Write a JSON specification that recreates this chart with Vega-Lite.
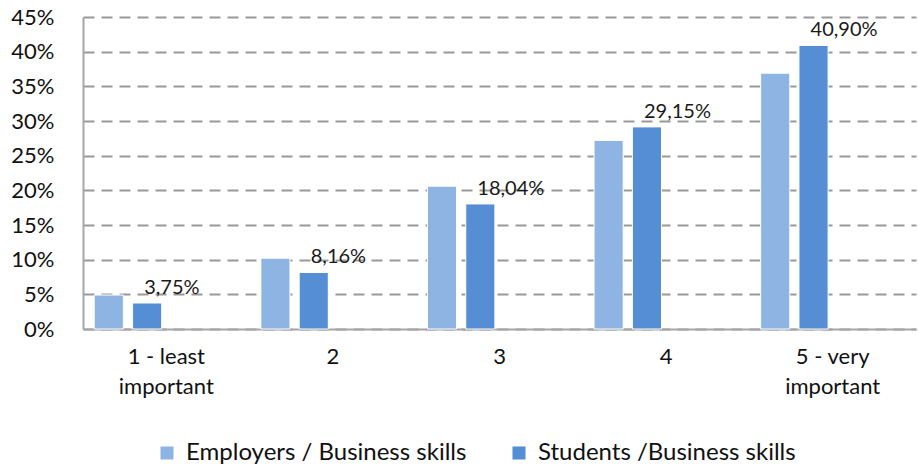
{
  "$schema": "https://vega.github.io/schema/vega-lite/v6.json",
  "width": 833,
  "height": 312,
  "autosize": {"type": "none"},
  "padding": {"left": 83, "top": 17, "right": 2, "bottom": 139},
  "config": {
    "locale": {"number": {"decimal": ",", "thousands": ".", "grouping": [3], "currency": ["", "€"]}},
    "view": {"stroke": null},
    "font": "Lato"
  },
  "data": {
    "values": [
      {"category": "1 - least important", "series": "Employers / Business skills", "value": 0.049},
      {"category": "1 - least important", "series": "Students /Business skills", "value": 0.0375},
      {"category": "2", "series": "Employers / Business skills", "value": 0.102},
      {"category": "2", "series": "Students /Business skills", "value": 0.0816},
      {"category": "3", "series": "Employers / Business skills", "value": 0.206},
      {"category": "3", "series": "Students /Business skills", "value": 0.1804},
      {"category": "4", "series": "Employers / Business skills", "value": 0.272},
      {"category": "4", "series": "Students /Business skills", "value": 0.2915},
      {"category": "5 -  very important", "series": "Employers / Business skills", "value": 0.369},
      {"category": "5 -  very important", "series": "Students /Business skills", "value": 0.409}
    ]
  },
  "encoding": {
    "x": {
      "field": "category", "type": "nominal", "sort": null,
      "scale": {"paddingInner": 0.08, "paddingOuter": 0.04},
      "axis": {
        "title": null, "ticks": false, "labelAngle": 0,
        "domainColor": "#a6a6a6", "domainWidth": 2,
        "labelFontSize": 22, "labelPadding": 17, "labelLineHeight": 30, "labelColor": "#111111",
        "labelExpr": "datum.label == '1 - least important' ? ['1 - least', 'important'] : datum.label == '5 -  very important' ? ['5 -  very', 'important'] : datum.label"
      }
    },
    "xOffset": {
      "field": "series", "type": "nominal",
      "scale": {"domain": ["Employers / Business skills", "Students /Business skills", "_s3", "_s4"], "paddingInner": 0.24, "paddingOuter": 0.12}
    },
    "y": {
      "field": "value", "type": "quantitative",
      "scale": {"domain": [0, 0.45]},
      "axis": {
        "title": null, "format": ".0%",
        "values": [0, 0.05, 0.1, 0.15, 0.2, 0.25, 0.3, 0.35, 0.4, 0.45],
        "grid": true, "gridDash": [11, 7], "gridColor": "#999999", "gridWidth": 2,
        "domainColor": "#a6a6a6", "domainWidth": 2, "ticks": false,
        "labelFontSize": 22, "labelPadding": 29, "labelColor": "#111111"
      }
    }
  },
  "layer": [
    {
      "mark": {"type": "bar", "stroke": "#ffffff", "strokeWidth": 1},
      "encoding": {
        "color": {
          "field": "series", "type": "nominal",
          "scale": {"domain": ["Employers / Business skills", "Students /Business skills"], "range": ["#8db4e2", "#558ed5"]},
          "legend": {
            "title": null, "orient": "none", "legendX": 72, "legendY": 424, "direction": "horizontal",
            "symbolType": "square", "symbolSize": 170, "symbolStrokeWidth": 0, "labelOffset": 7,
            "labelFontSize": 24, "labelColor": "#111111", "columnPadding": 40, "labelLimit": 500
          }
        }
      }
    },
    {
      "transform": [{"filter": "datum.series == 'Students /Business skills'"}],
      "mark": {"type": "text", "align": "left", "baseline": "alphabetic", "dx": -3, "dy": -9, "fontSize": 20, "color": "#1a1a1a"},
      "encoding": {
        "text": {"field": "value", "type": "quantitative", "format": ".2%"}
      }
    }
  ]
}
